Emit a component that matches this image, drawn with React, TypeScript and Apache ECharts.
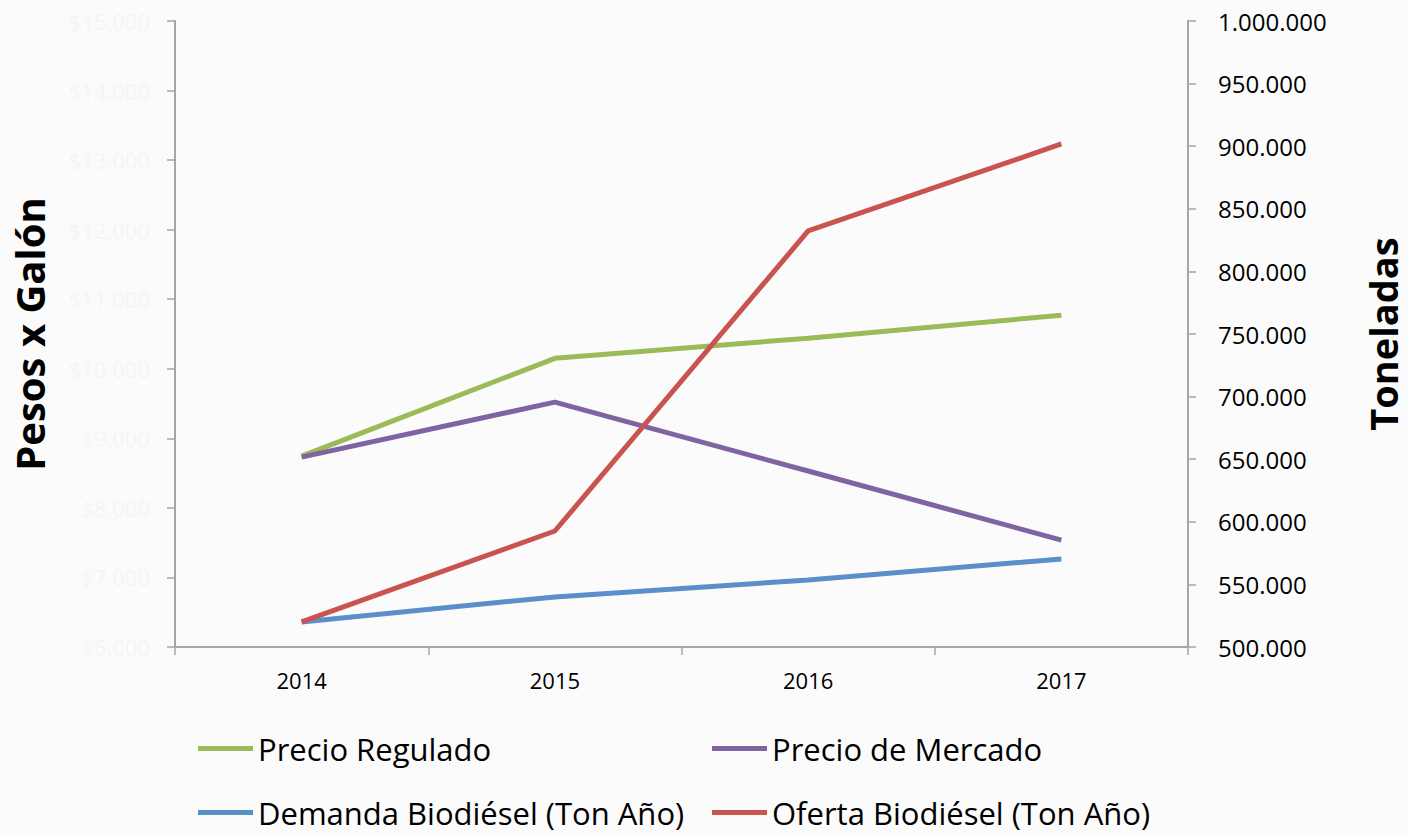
import React, { useEffect, useRef } from "react";
import * as echarts from "echarts";

const years = ["2014", "2015", "2016", "2017"];
const precioRegulado = [8744, 10150, 10440, 10770];
const precioMercado = [8730, 9520, 8530, 7537];
const demanda = [520000, 540000, 553500, 570300];
const oferta = [520000, 592650, 832300, 901800];

const fmtThousands = (v: number) =>
  String(Math.round(v)).replace(/\B(?=(\d{3})+(?!\d))/g, ".");

export default function App() {
  const ref = useRef<HTMLDivElement>(null);
  useEffect(() => {
    if (!ref.current) return;
    const chart = echarts.init(ref.current, null, { renderer: "svg" });
    const axisLine = { show: true, lineStyle: { color: "#a6a6a6", width: 2 } };
    const font = "Open Sans";
    const legendBase = {
      icon: "rect",
      itemWidth: 55,
      itemHeight: 5,
      itemGap: 4,
      padding: 0,
      textStyle: { fontFamily: font, fontSize: 31, color: "#000" },
    };
    chart.setOption({
      animation: false,
      backgroundColor: "#fbfbfb",
      grid: { left: 175, right: 220, top: 21, bottom: 187, outerBoundsMode: "none" },
      xAxis: {
        type: "category",
        data: years,
        boundaryGap: true,
        axisLine,
        axisTick: { show: true, length: 8, lineStyle: { color: "#a6a6a6", width: 1.5 } },
        axisLabel: { fontFamily: "Liberation Sans Narrow, Open Sans", fontSize: 22, color: "#000", margin: 22 },
      },
      yAxis: [
        {
          type: "value",
          min: 6000,
          max: 15000,
          interval: 1000,
          position: "left",
          splitLine: { show: false },
          axisLine,
          axisTick: { show: true, length: 8, lineStyle: { color: "#a6a6a6", width: 1.5 } },
          axisLabel: {
            fontFamily: font,
            fontSize: 22,
            color: "#f5f5f5",
            margin: 25,
            formatter: (v: number) => "$" + fmtThousands(v),
          },
          name: "Pesos x Galón",
          nameLocation: "middle",
          nameGap: 126,
          nameRotate: 90,
          nameTextStyle: { fontFamily: font, fontSize: 40, fontWeight: "bold", color: "#000" },
        },
        {
          type: "value",
          min: 500000,
          max: 1000000,
          interval: 50000,
          position: "right",
          splitLine: { show: false },
          axisLine,
          axisTick: { show: true, length: 8, lineStyle: { color: "#a6a6a6", width: 1.5 } },
          axisLabel: {
            fontFamily: font,
            fontSize: 24,
            color: "#000",
            margin: 30,
            formatter: (v: number) => fmtThousands(v),
          },
          name: "Toneladas",
          nameLocation: "middle",
          nameGap: 178,
          nameRotate: 90,
          nameTextStyle: { fontFamily: font, fontSize: 38, lineHeight: 34, fontWeight: "bold", color: "#000" },
        },
      ],
      legend: [
        { ...legendBase, left: 198, top: 733, data: ["Precio Regulado"] },
        { ...legendBase, left: 712, top: 733, data: ["Precio de Mercado"] },
        { ...legendBase, left: 198, top: 797, data: ["Demanda Biodiésel (Ton Año)"] },
        { ...legendBase, left: 712, top: 797, data: ["Oferta Biodiésel (Ton Año)"] },
      ],
      series: [
        {
          name: "Precio Regulado",
          type: "line",
          yAxisIndex: 0,
          data: precioRegulado,
          symbol: "none",
          color: "#9bbb59",
          lineStyle: { width: 5 },
        },
        {
          name: "Precio de Mercado",
          type: "line",
          yAxisIndex: 0,
          data: precioMercado,
          symbol: "none",
          color: "#8064a2",
          lineStyle: { width: 5 },
        },
        {
          name: "Demanda Biodiésel (Ton Año)",
          type: "line",
          yAxisIndex: 1,
          data: demanda,
          symbol: "none",
          color: "#5b8fcb",
          lineStyle: { width: 5 },
        },
        {
          name: "Oferta Biodiésel (Ton Año)",
          type: "line",
          yAxisIndex: 1,
          data: oferta,
          symbol: "none",
          color: "#c9544f",
          lineStyle: { width: 5 },
        },
      ],
    });
    return () => chart.dispose();
  }, []);
  return (
    <div
      ref={ref}
      style={{ position: "fixed", left: 0, top: 0, width: 1408, height: 834 }}
    />
  );
}
